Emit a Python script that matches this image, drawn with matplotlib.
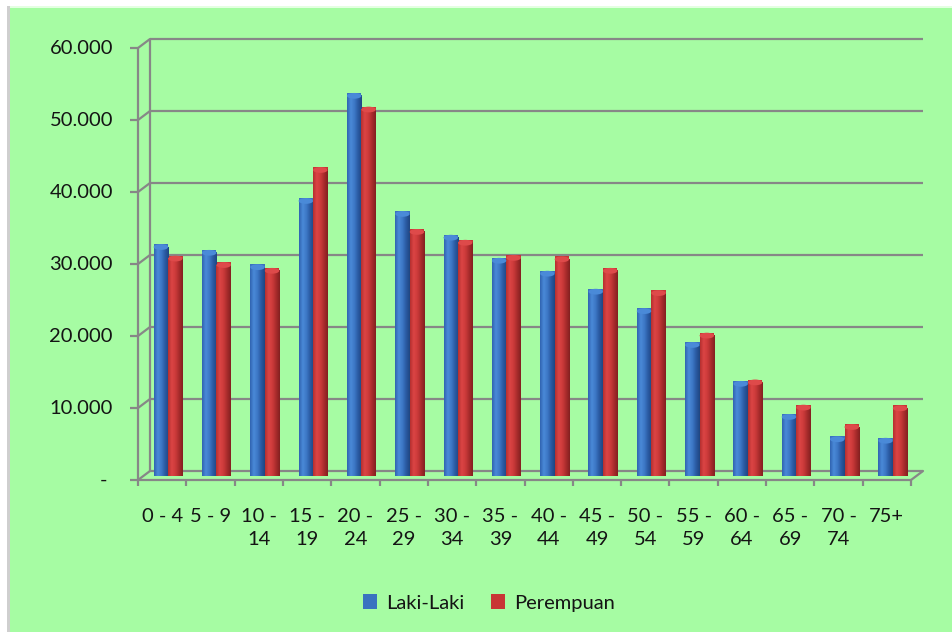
import numpy as np
import matplotlib
matplotlib.use("Agg")
import matplotlib.pyplot as plt
from matplotlib.transforms import offset_copy
from matplotlib.patches import Rectangle, Ellipse, ConnectionPatch
from matplotlib.colors import LinearSegmentedColormap

# ---------------- data ----------------
categories = ["0 - 4", "5 - 9", "10 -\n14", "15 -\n19", "20 -\n24", "25 -\n29",
              "30 -\n34", "35 -\n39", "40 -\n44", "45 -\n49", "50 -\n54", "55 -\n59",
              "60 -\n64", "65 -\n69", "70 -\n74", "75+"]
laki_laki = [32200, 31400, 29400, 38600, 53200, 36800, 33500, 30300,
             28500, 26000, 23300, 18600, 13200, 8600, 5500, 5300]
perempuan = [30600, 29700, 28900, 42900, 51300, 34300, 32800, 30700,
             30500, 28900, 25800, 19900, 13400, 9900, 7200, 9800]
yticks = [0, 10000, 20000, 30000, 40000, 50000, 60000]
ytick_labels = ["-", "10.000", "20.000", "30.000", "40.000", "50.000", "60.000"]
series_names = ["Laki-Laki", "Perempuan"]

# ---------------- style ----------------
plt.rcParams["font.family"] = ["Lato", "DejaVu Sans"]
FS = 14.5
W, H = 953, 632
BG = "#a6fca3"
GRID = "#878787"
TXT = "#141414"

fig = plt.figure(figsize=(W / 100, H / 100), dpi=100, facecolor="white")
# chart area background
fig.add_artist(Rectangle((7 / W, 0), 3 / W, (H - 6) / H, transform=fig.transFigure,
                         facecolor="#cfcfcf", edgecolor="none", zorder=0))
fig.add_artist(Rectangle((10 / W, 0), (W - 10) / W, (H - 6) / H, transform=fig.transFigure,
                         facecolor=BG, edgecolor="none", zorder=0))
fig.add_artist(Rectangle((10 / W, (H - 8) / H), (W - 10) / W, 2 / H, transform=fig.transFigure,
                         facecolor="#e4ffe2", edgecolor="none", zorder=0))

ax = fig.add_axes([144 / W, (H - 476) / H, 773 / W, 432 / H])
ax.set_facecolor("none")
for s in ax.spines.values():
    s.set_visible(False)
ax.set_xticks([])
ax.set_yticks([])

n = len(categories)
x = np.arange(n)
ax.set_xlim(-0.5, n - 0.5)
ax.set_ylim(0, 60000)

back = offset_copy(ax.transData, fig=fig, x=6, y=5, units="dots")
front = offset_copy(ax.transData, fig=fig, x=-6, y=-4, units="dots")

lkw = dict(color=GRID, lw=1.6, clip_on=False, solid_capstyle="butt")
# back wall gridlines
for v in yticks:
    ax.plot([-0.5, n - 0.5], [v, v], transform=back, zorder=1, **lkw)
ax.plot([-0.5, -0.5], [0, yticks[-1]], transform=back, zorder=1, **lkw)
# front axes
ax.plot([-0.5, -0.5], [0, yticks[-1]], transform=front, zorder=2, **lkw)
ax.plot([-0.5, n - 0.5], [0, 0], transform=front, zorder=2, **lkw)
ax.plot([-0.5] * len(yticks), yticks, transform=front, linestyle="none",
        marker=0, markersize=5.5, markeredgewidth=1.6, color=GRID, clip_on=False, zorder=2)
ax.plot(np.arange(n + 1) - 0.5, [0] * (n + 1), transform=front, linestyle="none",
        marker=3, markersize=4.5, markeredgewidth=1.6, color=GRID, clip_on=False, zorder=2)
for v in yticks:
    cp = ConnectionPatch(xyA=(-0.5, v), coordsA=front, xyB=(-0.5, v), coordsB=back,
                         color=GRID, lw=1.6, zorder=2)
    ax.add_artist(cp)
cp = ConnectionPatch(xyA=(n - 0.5, 0), coordsA=front, xyB=(n - 0.5, 0), coordsB=back,
                     color=GRID, lw=1.6, zorder=2)
ax.add_artist(cp)

# tick labels
ylab_tr = offset_copy(ax.transData, fig=fig, x=-31, y=-4, units="dots")
for v, lab in zip(yticks, ytick_labels):
    ax.text(-0.5, v, lab if v else "- ", transform=ylab_tr, ha="right", va="center",
            fontsize=FS, color=TXT, clip_on=False)
xlab_tr = offset_copy(ax.transData, fig=fig, x=-6, y=-32, units="dots")
for xi, lab in zip(x, categories):
    ax.text(xi, 0, lab, transform=xlab_tr, ha="center", va="top", fontsize=FS,
            color=TXT, linespacing=1.45, clip_on=False)

# bars
bw = 0.3
blue_cmap = LinearSegmentedColormap.from_list(
    "b", ["#2f63b0", "#4a8ad8", "#3d78c6", "#2a5aa2", "#1f4682"])
red_cmap = LinearSegmentedColormap.from_list(
    "r", ["#b52f2f", "#dc4545", "#cc3a3a", "#a82c2c", "#822020"])
grad = np.linspace(0, 1, 64).reshape(1, -1)

b1 = ax.bar(x - bw / 2, laki_laki, width=bw, color="#3a72c0", edgecolor="none",
            label=series_names[0], zorder=3)
b2 = ax.bar(x + bw / 2, perempuan, width=bw, color="#c83535", edgecolor="none",
            label=series_names[1], zorder=3)

cap_h = 800
for bars, cmap, capc in ((b1, blue_cmap, "#4a8ad8"), (b2, red_cmap, "#de4a4a")):
    for r in bars:
        x0, y0 = r.get_x(), r.get_y()
        w, h = r.get_width(), r.get_height()
        im = ax.imshow(grad, cmap=cmap, extent=(x0, x0 + w, y0, y0 + h - cap_h / 2),
                       aspect="auto", zorder=3.5, interpolation="bilinear")
        im.set_clip_path(r)
        ax.add_patch(Ellipse((x0 + w / 2, y0 + h - cap_h / 2), w, cap_h,
                             facecolor=capc, edgecolor="none", zorder=3.6))

ax.set_xlim(-0.5, n - 0.5)
ax.set_ylim(0, 60000)

leg = fig.legend(handles=[b1, b2], labels=series_names, loc="center",
                 bbox_to_anchor=(489 / W, 1 - 603 / H), ncol=2, frameon=False,
                 fontsize=FS, handlelength=0.7, handleheight=0.7,
                 handletextpad=0.45, columnspacing=1.3, labelcolor=TXT)

fig.savefig("out.png", dpi=100, facecolor=fig.get_facecolor())
